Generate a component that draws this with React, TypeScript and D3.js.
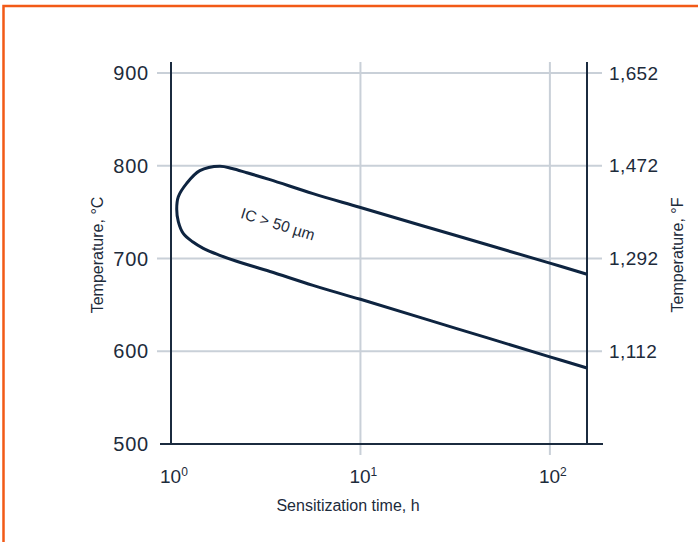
import React from "react";
import * as d3 from "d3";

const W = 698;
const H = 542;

const yTicksC = [900, 800, 700, 600, 500];
const yTicksF = ["1,652", "1,472", "1,292", "1,112"];
const xTicks = [1, 10, 100];
const xTickExps = ["0", "1", "2"];

// curve: sensitization time (h), temperature (°C)
const curveTime = [
  157, 100, 31.6, 10, 5.62, 3.33, 2.51, 2.1, 1.81, 1.42, 1.21, 1.093, 1.072, 1.093, 1.16, 1.3, 1.48, 1.78, 2.22,
  3.33, 5.62, 10, 31.6, 100, 157,
];
const curveTemp = [
  683, 695, 725, 755, 770, 785, 792.5, 797, 799.4, 794.7, 781, 766.6, 753, 739.7, 727, 718, 711, 704, 697, 686,
  671, 656, 625, 594, 582,
];

const regionLabel = "IC > 50 µm";

export default function App() {
  const x = d3.scaleLog().domain([1, 157]).range([171, 587]);
  const y = d3.scaleLinear().domain([500, 900]).range([444, 73]);
  const pts = curveTime.map((t, i) => [x(t), y(curveTemp[i])] as [number, number]);
  const line = d3.line().curve(d3.curveCatmullRom.alpha(0.5));
  const textColor = "#1d2b3b";
  const axisColor = "#1b2b3f";
  const gridColor = "#c9d0d8";
  const font = "'Liberation Sans', Arial, Helvetica, sans-serif";

  return (
    <svg width={W} height={H} style={{ position: "absolute", left: 0, top: 0 }} fontFamily={font}>
      <rect x={0} y={0} width={W} height={H} fill="#fff" />
      <rect x={3.5} y={6} width={W + 20} height={H + 20} fill="none" stroke="#f25a17" strokeWidth={2.5} />
      {/* horizontal gridlines */}
      {yTicksC.slice(0, 4).map((v) => (
        <line key={"h" + v} x1={157} x2={602} y1={y(v)} y2={y(v)} stroke={gridColor} strokeWidth={2} />
      ))}
      {/* vertical gridlines */}
      {xTicks.slice(1).map((v) => (
        <line key={"v" + v} x1={x(v)} x2={x(v)} y1={62} y2={455} stroke={gridColor} strokeWidth={2} />
      ))}
      {/* axes */}
      <line x1={x(1)} x2={x(1)} y1={62} y2={y(500)} stroke={axisColor} strokeWidth={2} />
      <line x1={x(157)} x2={x(157)} y1={62} y2={y(500)} stroke={axisColor} strokeWidth={2} />
      <line x1={160} x2={603} y1={y(500)} y2={y(500)} stroke={axisColor} strokeWidth={2} />
      {/* curve */}
      <path d={line(pts) || ""} fill="none" stroke="#0e2440" strokeWidth={3} strokeLinejoin="round" />
      {/* left tick labels */}
      {yTicksC.map((v) => (
        <text key={"lc" + v} x={149} y={y(v)} textAnchor="end" dominantBaseline="central" fontSize={20} letterSpacing={0.8} fill={textColor}>
          {v}
        </text>
      ))}
      {yTicksF.map((s, i) => (
        <text key={"rf" + s} x={609} y={y(yTicksC[i])} textAnchor="start" dominantBaseline="central" fontSize={19} letterSpacing={0.4} fill={textColor}>
          {s}
        </text>
      ))}
      {xTicks.map((v, i) => (
        <text key={"xt" + v} x={x(v) - 11} y={483} fontSize={19} fill={textColor}>
          10
          <tspan dy={-7} fontSize={12}>
            {xTickExps[i]}
          </tspan>
        </text>
      ))}
      <text x={348} y={511} textAnchor="middle" fontSize={16} fill={textColor}>
        Sensitization time, h
      </text>
      <text transform={`translate(103,255) rotate(-90)`} textAnchor="middle" fontSize={16} fill={textColor}>
        Temperature, °C
      </text>
      <text transform={`translate(683,255) rotate(-90)`} textAnchor="middle" fontSize={16} fill={textColor}>
        Temperature, °F
      </text>
      <text transform={`translate(278,224) rotate(17.3)`} textAnchor="middle" dominantBaseline="central" fontSize={15.5} fill={textColor}>
        {regionLabel}
      </text>
    </svg>
  );
}
